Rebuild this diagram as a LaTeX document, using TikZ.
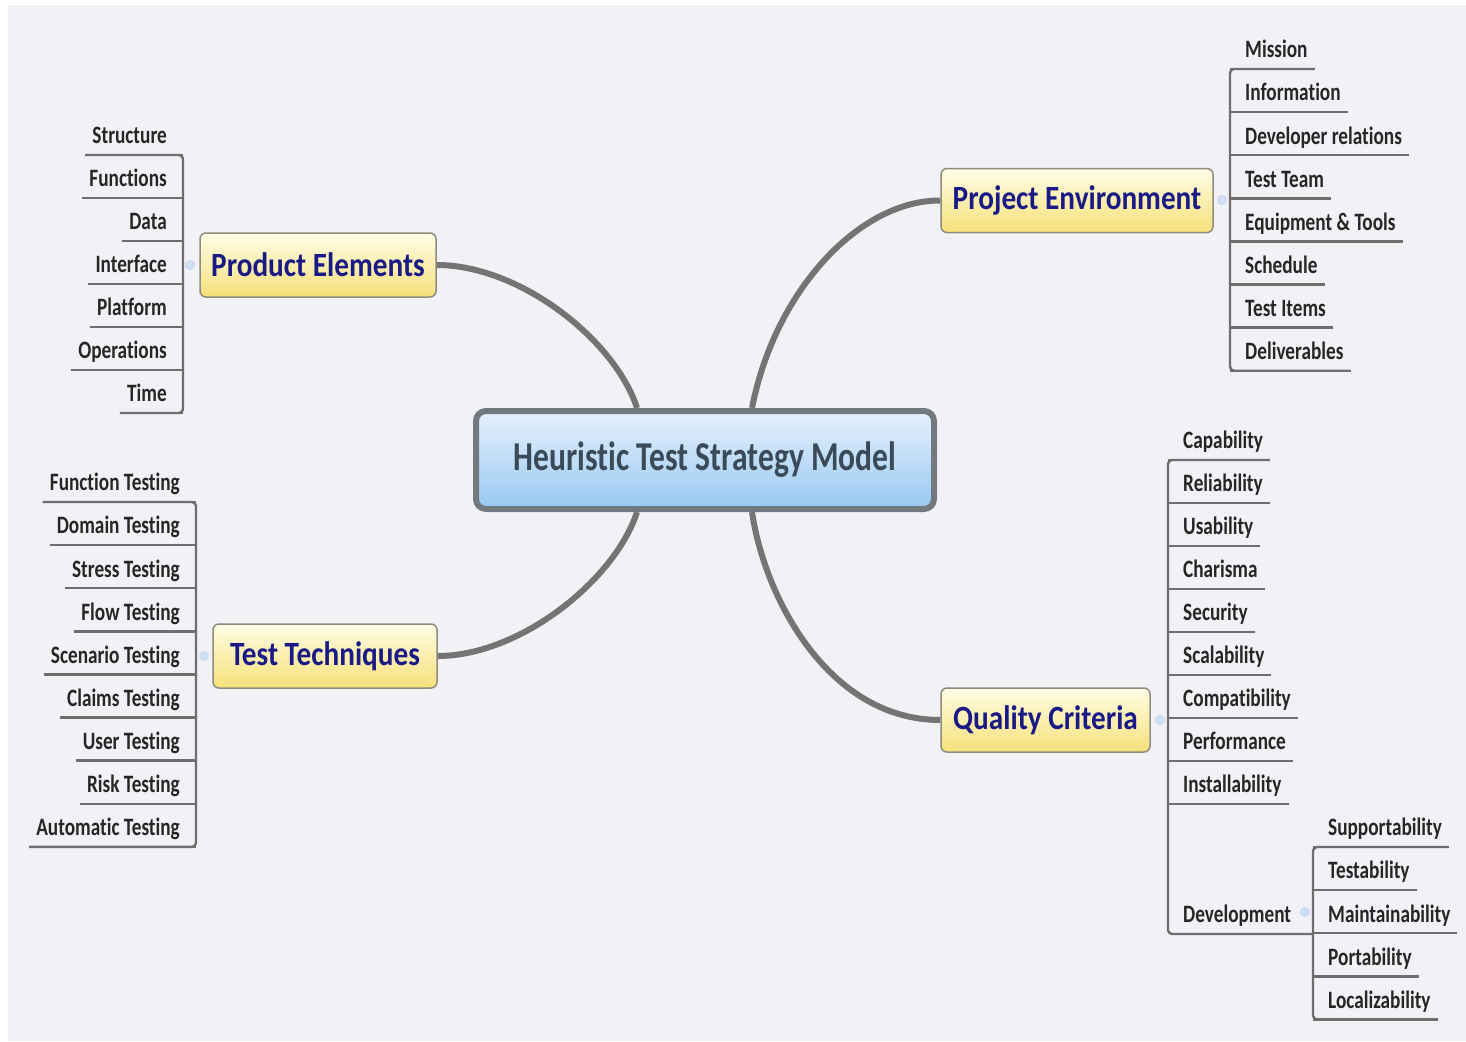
\documentclass[tikz,border=0pt]{standalone}
\usepackage{fontspec}
\usepackage{tikz}
\newfontfamily\leaffont[FakeStretch=0.77,Ligatures=NoCommon]{Carlito}
\newfontfamily\branchfont[FakeStretch=0.86,Ligatures=NoCommon]{Carlito}

\definecolor{mapbg}{HTML}{F1F1F6}
\definecolor{leaftext}{HTML}{262626}
\definecolor{twigline}{HTML}{6E6E6E}
\definecolor{trunkline}{HTML}{747474}
\definecolor{branchtext}{HTML}{1A1A86}
\definecolor{branchtop}{HTML}{FFFDE6}
\definecolor{branchbot}{HTML}{F6E07A}
\definecolor{branchline}{HTML}{8E8C7E}
\definecolor{roottop}{HTML}{E6F1FC}
\definecolor{rootbot}{HTML}{98C8F2}
\definecolor{rootline}{HTML}{727A80}
\definecolor{roottext}{HTML}{3A4A58}
\definecolor{folddot}{HTML}{CFE0F2}

\begin{document}
\begin{tikzpicture}[x=1pt,y=-1pt,line join=round]

    \tikzstyle{root}=[draw=rootline,line width=6pt,rounded corners=10pt,top color=roottop,bottom color=rootbot,text=roottext,minimum width=458pt,minimum height=98pt,font=\leaffont\bfseries\fontsize{41}{48}\selectfont]
    \tikzstyle{branch}=[draw=branchline,line width=1.5pt,rounded corners=6pt,top color=branchtop,bottom color=branchbot,text=branchtext,minimum height=64pt,font=\branchfont\bfseries\fontsize{34}{40}\selectfont]
    \tikzstyle{leaf}=[text=leaftext,inner xsep=7pt,inner ysep=0pt,text height=19pt,text depth=11pt,font=\leaffont\bfseries\fontsize{25}{28}\selectfont]
    \tikzstyle{twig}=[draw=twigline,line width=2.4pt]
    \tikzstyle{trunk}=[draw=trunkline,line width=6pt]
    \tikzstyle{fold}=[circle,draw=folddot!80!blue!60,fill=folddot,line width=0.8pt,inner sep=0pt,minimum size=9pt]

    \useasboundingbox (0,0) rectangle (1466,1041);
    \fill[mapbg] (8,5) rectangle (1466,1041);

    % centre and main branches
    \node[root]                        (hts)  at (705,460)    {Heuristic Test Strategy Model};
    \node[branch,minimum width=236pt]  (pe)   at (318,265)    {Product Elements};
    \node[branch,minimum width=272pt]  (penv) at (1077,200.5) {Project Environment};
    \node[branch,minimum width=224pt]  (tt)   at (325,656)    {Test Techniques};
    \node[branch,minimum width=209pt]  (qc)   at (1045.5,720) {Quality Criteria};

    \path[trunk] (pe.east)   .. controls (520,265) and (615,340) .. ([xshift=-68pt]hts.north);
    \path[trunk] (penv.west) .. controls (860,200) and (775,290) .. ([xshift=47pt]hts.north);
    \path[trunk] (tt.east)   .. controls (520,656) and (615,580) .. ([xshift=-68pt]hts.south);
    \path[trunk] (qc.west)   .. controls (830,720) and (765,600) .. ([xshift=47pt]hts.south);

    % product elements
    \coordinate (peb) at (183,265);
    \foreach \t [count=\i from 0] in {Structure,Functions,Data,Interface,Platform,Operations,Time}{
      \node[leaf,anchor=south east] (pe\i) at (174,155+43*\i) {\t};
      \path[twig] (pe\i.south west) -- (pe\i.south -| peb);
    }
    \path[twig,rounded corners=4pt] (pe0.south west) -- (pe0.south -| peb) -- (pe6.south -| peb) -- (pe6.south west);
    \node[fold] (pedot) at (190,265) {};

    % test techniques
    \coordinate (ttb) at (196,656);
    \foreach \t [count=\i from 0] in {Function Testing,Domain Testing,Stress Testing,Flow Testing,Scenario Testing,Claims Testing,User Testing,Risk Testing,Automatic Testing}{
      \node[leaf,anchor=south east] (tt\i) at (187,502+43.1*\i) {\t};
      \path[twig] (tt\i.south west) -- (tt\i.south -| ttb);
    }
    \path[twig,rounded corners=4pt] (tt0.south west) -- (tt0.south -| ttb) -- (tt8.south -| ttb) -- (tt8.south west);
    \node[fold] (ttdot) at (204,656) {};

    % project environment
    \coordinate (penvb) at (1230,200);
    \foreach \t [count=\i from 0] in {Mission,Information,Developer relations,Test Team,Equipment \& Tools,Schedule,Test Items,Deliverables}{
      \node[leaf,anchor=south west] (penv\i) at (1238,69+43.1*\i) {\t};
      \path[twig] (penv\i.south east) -- (penv\i.south -| penvb);
    }
    \path[twig,rounded corners=4pt] (penv0.south east) -- (penv0.south -| penvb) -- (penv7.south -| penvb) -- (penv7.south east);
    \node[fold] (penvdot) at (1222,200) {};

    % quality criteria
    \coordinate (qcb) at (1168,720);
    \foreach \t [count=\i from 0] in {Capability,Reliability,Usability,Charisma,Security,Scalability,Compatibility,Performance,Installability}{
      \node[leaf,anchor=south west] (qc\i) at (1176,460+43*\i) {\t};
      \path[twig] (qc\i.south east) -- (qc\i.south -| qcb);
    }
    \node[leaf,anchor=south west] (dev) at (1176,934) {Development};
    \node[fold] (qcdot) at (1160,720) {};

    % development
    \coordinate (devb) at (1313,934);
    \foreach \t [count=\i from 0] in {Supportability,Testability,Maintainability,Portability,Localizability}{
      \node[leaf,anchor=south west] (dev\i) at (1321,847+43.1*\i) {\t};
      \path[twig] (dev\i.south east) -- (dev\i.south -| devb);
    }
    \path[twig,rounded corners=4pt] (dev0.south east) -- (dev0.south -| devb) -- (dev4.south -| devb) -- (dev4.south east);
    \path[twig,rounded corners=4pt] (qc0.south east) -- (qc0.south -| qcb) -- (dev.south -| qcb) -- (dev.south -| devb);
    \node[fold] (devdot) at (1305,912) {};

\end{tikzpicture}
\end{document}
